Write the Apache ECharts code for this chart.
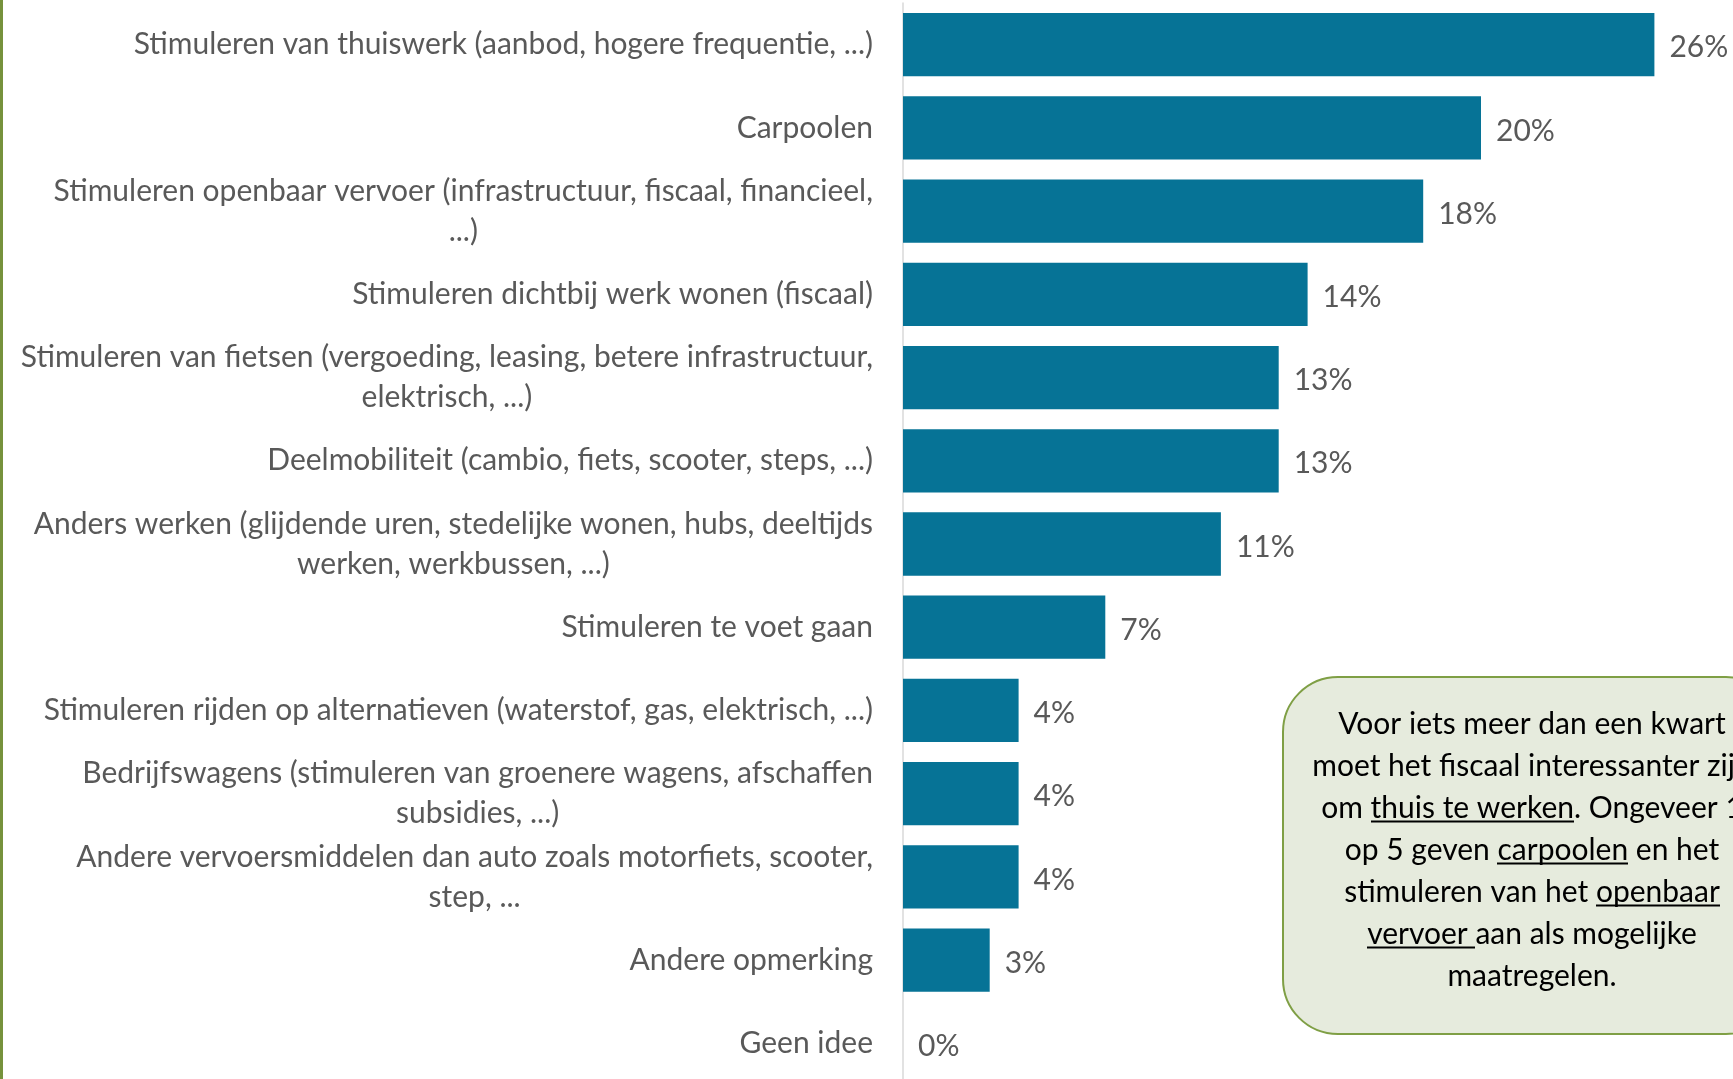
<!DOCTYPE html>
<html>
<head>
<meta charset="utf-8">
<script src="https://cdn.jsdelivr.net/npm/echarts@6/dist/echarts.min.js"></script>
<style>
  html, body { margin: 0; padding: 0; background: #ffffff; }
  #chart { width: 1733px; height: 1079px; }
</style>
</head>
<body>
<div id="chart"></div>
<script>
const categories = [
  'Stimuleren van thuiswerk (aanbod, hogere frequentie, ...)',
  'Carpoolen',
  'Stimuleren openbaar vervoer (infrastructuur, fiscaal, financieel,\n...)',
  'Stimuleren dichtbij werk wonen (fiscaal)',
  'Stimuleren van fietsen (vergoeding, leasing, betere infrastructuur,\nelektrisch, ...)',
  'Deelmobiliteit (cambio, fiets, scooter, steps, ...)',
  'Anders werken (glijdende uren, stedelijke wonen, hubs, deeltijds\nwerken, werkbussen, ...)',
  'Stimuleren te voet gaan',
  'Stimuleren rijden op alternatieven (waterstof, gas, elektrisch, ...)',
  'Bedrijfswagens (stimuleren van groenere wagens, afschaffen\nsubsidies, ...)',
  'Andere vervoersmiddelen dan auto zoals motorfiets, scooter,\nstep, ...',
  'Andere opmerking',
  'Geen idee'
];
const values = [26, 20, 18, 14, 13, 13, 11, 7, 4, 4, 4, 3, 0];

const noteLines = [
  'Voor iets meer dan een kwart',
  'moet het fiscaal interessanter zijn',
  'om {u|thuis te werken}. Ongeveer 1',
  'op 5 geven {u|carpoolen} en het',
  'stimuleren van het {u|openbaar}',
  '{u|vervoer }aan als mogelijke',
  'maatregelen.'
];

const FONT = 'Lato';
const LABEL_COLOR = '#595959';
const BAR_COLOR = '#067396';

// underline image for rich text segments
const ul = document.createElement('canvas');
ul.width = 8; ul.height = 60;
const ulc = ul.getContext('2d');
ulc.fillStyle = '#000000';
ulc.fillRect(0, 55, 8, 4);

const chart = echarts.init(document.getElementById('chart'), null, { renderer: 'canvas' });
chart.setOption({
  animation: false,
  backgroundColor: '#ffffff',
  grid: { left: 903, top: 3, width: 867, height: 1082, containLabel: false, outerBoundsMode: 'none' },
  xAxis: {
    type: 'value', min: 0, max: 30,
    show: false,
    splitLine: { show: false }
  },
  yAxis: {
    type: 'category',
    inverse: true,
    data: categories,
    axisLine: { show: true, lineStyle: { color: '#D9D9D9', width: 1.5 } },
    axisTick: { show: false },
    axisLabel: {
      margin: 30,
      color: LABEL_COLOR,
      fontFamily: FONT,
      fontSize: 30,
      lineHeight: 40,
      align: 'right',
      formatter: function (v) {
        return v.split('\n').map(function (l) { return '{c|' + l + '}'; }).join('\n');
      },
      rich: {
        c: { align: 'center', color: LABEL_COLOR, fontFamily: FONT, fontSize: 30, lineHeight: 40 }
      }
    }
  },
  series: [{
    type: 'bar',
    data: values,
    barWidth: '76%',
    itemStyle: { color: BAR_COLOR },
    label: {
      show: true,
      position: 'right',
      distance: 15,
      offset: [0, 3],
      color: LABEL_COLOR,
      fontFamily: FONT,
      fontSize: 30,
      formatter: function (p) { return p.value + '%'; }
    }
  }],
  graphic: [
    {
      type: 'rect',
      left: 0, top: 0,
      shape: { x: 0, y: 0, width: 3, height: 1079 },
      style: { fill: '#76923C' },
      silent: true
    },
    {
      type: 'rect',
      shape: { x: 1283, y: 677, width: 498, height: 357, r: 55 },
      style: { fill: '#E6EBDD', stroke: '#7F9F45', lineWidth: 2 },
      silent: true,
      z: 10
    },
    {
      type: 'text',
      x: 1532, y: 850,
      z: 11,
      silent: true,
      style: {
        text: noteLines.join('\n'),
        align: 'center',
        verticalAlign: 'middle',
        fill: '#000000',
        fontFamily: FONT,
        fontSize: 30,
        lineHeight: 42,
        rich: {
          u: {
            fill: '#000000', fontFamily: FONT, fontSize: 30, lineHeight: 42,
            backgroundColor: { image: ul }
          }
        }
      }
    }
  ]
});
</script>
</body>
</html>
